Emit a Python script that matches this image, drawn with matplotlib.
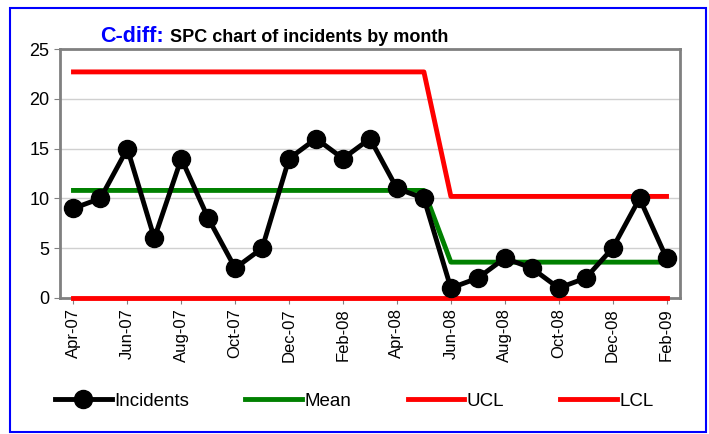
import matplotlib.pyplot as plt
from matplotlib.patches import Rectangle

plt.rcParams['font.family'] = ['Liberation Sans', 'DejaVu Sans']

# monthly data, Apr-07 .. Feb-09
months = ["Apr-07", "May-07", "Jun-07", "Jul-07", "Aug-07", "Sep-07", "Oct-07",
          "Nov-07", "Dec-07", "Jan-08", "Feb-08", "Mar-08", "Apr-08", "May-08",
          "Jun-08", "Jul-08", "Aug-08", "Sep-08", "Oct-08", "Nov-08", "Dec-08",
          "Jan-09", "Feb-09"]
incidents = [9, 10, 15, 6, 14, 8, 3, 5, 14, 16, 14, 16, 11, 10,
             1, 2, 4, 3, 1, 2, 5, 10, 4]
mean = [10.8] * 14 + [3.6] * 9
ucl = [22.7] * 14 + [10.2] * 9
lcl = [0] * 23

fig = plt.figure(figsize=(7.09, 4.34), dpi=100)
ax = fig.add_axes([60 / 709, 1 - 298 / 434, 620 / 709, 249 / 434])

x = range(len(months))
ax.plot(x, incidents, color="black", lw=3.5, marker="o", ms=13, zorder=5, label="Incidents")
ax.plot(x, mean, color="#008000", lw=3.5, zorder=3, label="Mean")
ax.plot(x, ucl, color="#ff0000", lw=3.5, zorder=4, label="UCL")
ax.plot(x, lcl, color="#ff0000", lw=3.5, zorder=4, label="LCL", clip_on=False)

ax.set_xlim(-0.5, len(months) - 0.5)
ax.set_ylim(0, 25)
ax.set_yticks(range(0, 26, 5))
ax.set_xticks(list(x)[::2])
ax.set_xticklabels(months[::2], rotation=90)
ax.tick_params(axis="both", labelsize=13, length=4, color="#808080")
ax.tick_params(axis="x", labelsize=12)
ax.grid(axis="y", color="#d0d0d0", lw=1)
ax.set_axisbelow(True)
for s in ax.spines.values():
    s.set_color("#808080")
    s.set_linewidth(2)

fig.text(100 / 709, 1 - 37 / 434, "C-diff:", color="#0000ff", fontsize=15.5,
         fontweight="bold", va="center")
fig.text(170 / 709, 1 - 38 / 434, "SPC chart of incidents by month", color="black",
         fontsize=13, fontweight="bold", va="center")

fig.legend(loc="center", bbox_to_anchor=(0.5, 1 - 401 / 434), ncol=4, frameon=False,
           fontsize=13.5, handlelength=3.0, handletextpad=0.15, columnspacing=3.0)

fig.patches.append(Rectangle((10 / 709, 1 - 432 / 434), 696 / 709, 424 / 434,
                             transform=fig.transFigure, fill=False,
                             edgecolor="#0000ff", lw=1.5))

fig.savefig("out.png", dpi=100)
